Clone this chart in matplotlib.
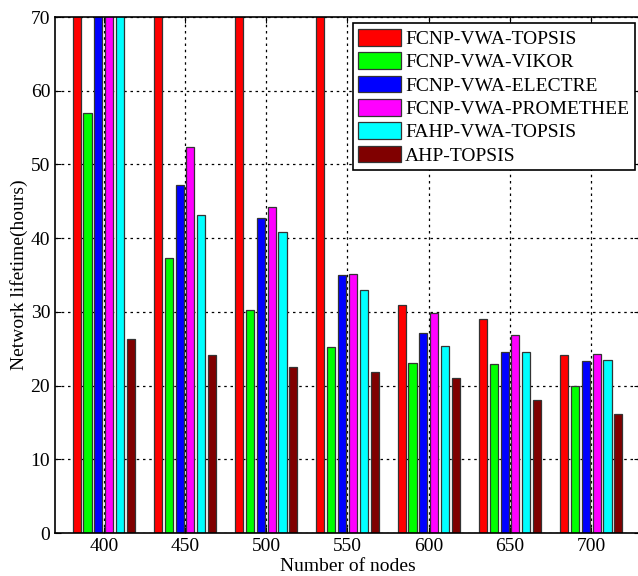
import numpy as np
import matplotlib
matplotlib.use("Agg")
import matplotlib.pyplot as plt

plt.rcParams['font.family'] = ['Liberation Serif', 'DejaVu Serif']

nodes = ['400', '450', '500', '550', '600', '650', '700']
series = ['FCNP-VWA-TOPSIS', 'FCNP-VWA-VIKOR', 'FCNP-VWA-ELECTRE',
          'FCNP-VWA-PROMETHEE', 'FAHP-VWA-TOPSIS', 'AHP-TOPSIS']
colores = ['#ff0000', '#00ff00', '#0000ff', '#ff00ff', '#00ffff', '#800000']

# valores acima de 70 saem cortados na figura original
fcnp_topsis = [80, 80, 80, 80, 30.9, 29.0, 24.2]
fcnp_vikor = [57.0, 37.3, 30.2, 25.3, 23.1, 22.9, 19.9]
fcnp_electre = [80, 47.2, 42.7, 35.0, 27.1, 24.6, 23.3]
fcnp_promethee = [80, 52.3, 44.2, 35.2, 29.9, 26.9, 24.3]
fahp_topsis = [80, 43.1, 40.9, 33.0, 25.4, 24.6, 23.5]
ahp_topsis = [26.3, 24.2, 22.5, 21.9, 21.0, 18.1, 16.1]

dados = [fcnp_topsis, fcnp_vikor, fcnp_electre, fcnp_promethee, fahp_topsis, ahp_topsis]

fig = plt.figure(figsize=(6.38, 5.76), dpi=100)
ax = fig.add_axes([55 / 638, 1 - 533 / 576, 585 / 638, 516 / 576])

x = np.arange(len(nodes))
slot = 0.8 / len(series)
for i, (nome, vals, cor) in enumerate(zip(series, dados, colores)):
    desloc = (i - (len(series) - 1) / 2) * slot
    ax.bar(x + desloc, vals, width=0.1, color=cor, edgecolor='#333333',
           linewidth=0.9, label=nome, zorder=2)

ax.set_xlim(-0.6, 6.6)
ax.set_ylim(0, 70)
ax.set_xticks(x)
ax.set_xticklabels(nodes)
ax.set_yticks(np.arange(0, 71, 10))
ax.tick_params(direction='in', top=True, right=True, labelsize=14, length=4)
ax.grid(True, linestyle=(0, (2, 3)), color='black', linewidth=0.9, zorder=0)
ax.set_axisbelow(True)
for s in ax.spines.values():
    s.set_linewidth(1.2)

ax.set_xlabel('Number of nodes', fontsize=14, labelpad=2)
ax.set_ylabel('Network lifetime(hours)', fontsize=14, labelpad=2)

leg = ax.legend(loc='upper right', bbox_to_anchor=(635 / 638, 1 - 23 / 576),
                bbox_transform=fig.transFigure, borderaxespad=0, fontsize=14,
                fancybox=False, edgecolor='black', framealpha=1,
                handlelength=2.2, handleheight=0.95, labelspacing=0.22,
                handletextpad=0.2, borderpad=0.3)
leg.get_frame().set_linewidth(1.2)

plt.savefig('out.png', dpi=100)
plt.close()
